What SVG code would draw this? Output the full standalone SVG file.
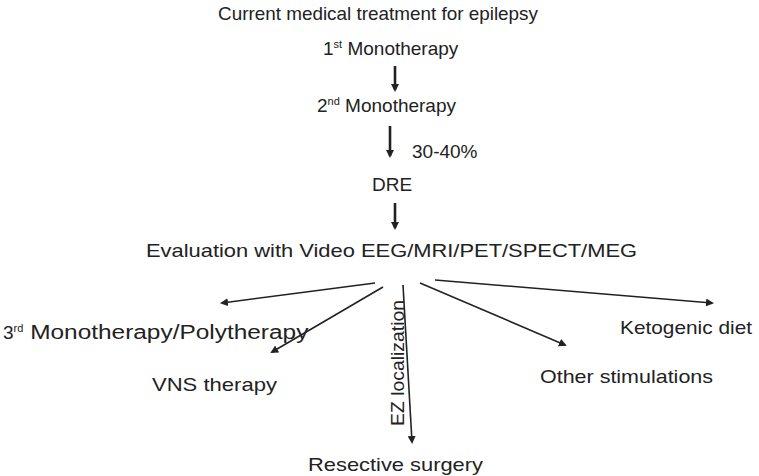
<svg xmlns="http://www.w3.org/2000/svg" width="759" height="476" viewBox="0 0 759 476">
<defs><marker id="a" markerWidth="8" markerHeight="8" refX="6" refY="4" orient="auto" markerUnits="userSpaceOnUse"><path d="M0,0 L8,4 L0,8 Z" fill="#222"/></marker></defs>
<style>text{font-family:"Liberation Sans",Arial,sans-serif;font-size:19px;fill:#222}.c line{stroke:#222;stroke-width:1.6;marker-end:url(#a)}.t{stroke-width:2.6!important}</style>
<rect width="759" height="476" fill="#fff"/>
<g id="title"><text x="378" y="20" text-anchor="middle" textLength="320" lengthAdjust="spacingAndGlyphs">Current medical treatment for epilepsy</text></g>
<g id="m1"><text x="323" y="55">1<tspan font-size="11" dy="-7">st</tspan><tspan dy="7"> Monotherapy</tspan></text></g>
<g id="m2"><text x="317" y="112">2<tspan font-size="11" dy="-7">nd</tspan><tspan dy="7"> Monotherapy</tspan></text></g>
<g id="pct"><text x="412" y="158">30-40%</text></g>
<g id="dre"><text x="372" y="191">DRE</text></g>
<g id="eval"><text x="146" y="257" font-size="20" textLength="491" lengthAdjust="spacingAndGlyphs">Evaluation with Video EEG/MRI/PET/SPECT/MEG</text></g>
<g id="poly"><text x="3" y="339">3<tspan font-size="11" dy="-7">rd</tspan><tspan dy="7" font-size="20" textLength="285" lengthAdjust="spacingAndGlyphs"> Monotherapy/Polytherapy</tspan></text></g>
<g id="vns"><text x="152" y="391" font-size="20" textLength="125" lengthAdjust="spacingAndGlyphs">VNS therapy</text></g>
<g id="res"><text x="308" y="471" textLength="175" lengthAdjust="spacingAndGlyphs">Resective surgery</text></g>
<g id="oth"><text x="540" y="383" textLength="173" lengthAdjust="spacingAndGlyphs">Other stimulations</text></g>
<g id="keto"><text x="620" y="334" textLength="132" lengthAdjust="spacingAndGlyphs">Ketogenic diet</text></g>
<g id="ez"><text transform="translate(404,426) rotate(-90)" textLength="126" lengthAdjust="spacingAndGlyphs">EZ localization</text></g>
<g class="c">
<line class="t" x1="395" y1="66" x2="395" y2="90"/>
<line class="t" x1="390" y1="126" x2="390" y2="156"/>
<line class="t" x1="395" y1="203" x2="395" y2="228"/>
<line x1="375" y1="283" x2="222" y2="303"/>
<line x1="383" y1="287" x2="272" y2="352"/>
<line x1="403" y1="285" x2="412" y2="442"/>
<line x1="420" y1="283" x2="565" y2="345"/>
<line x1="435" y1="280" x2="712" y2="303"/>
</g>
</svg>
